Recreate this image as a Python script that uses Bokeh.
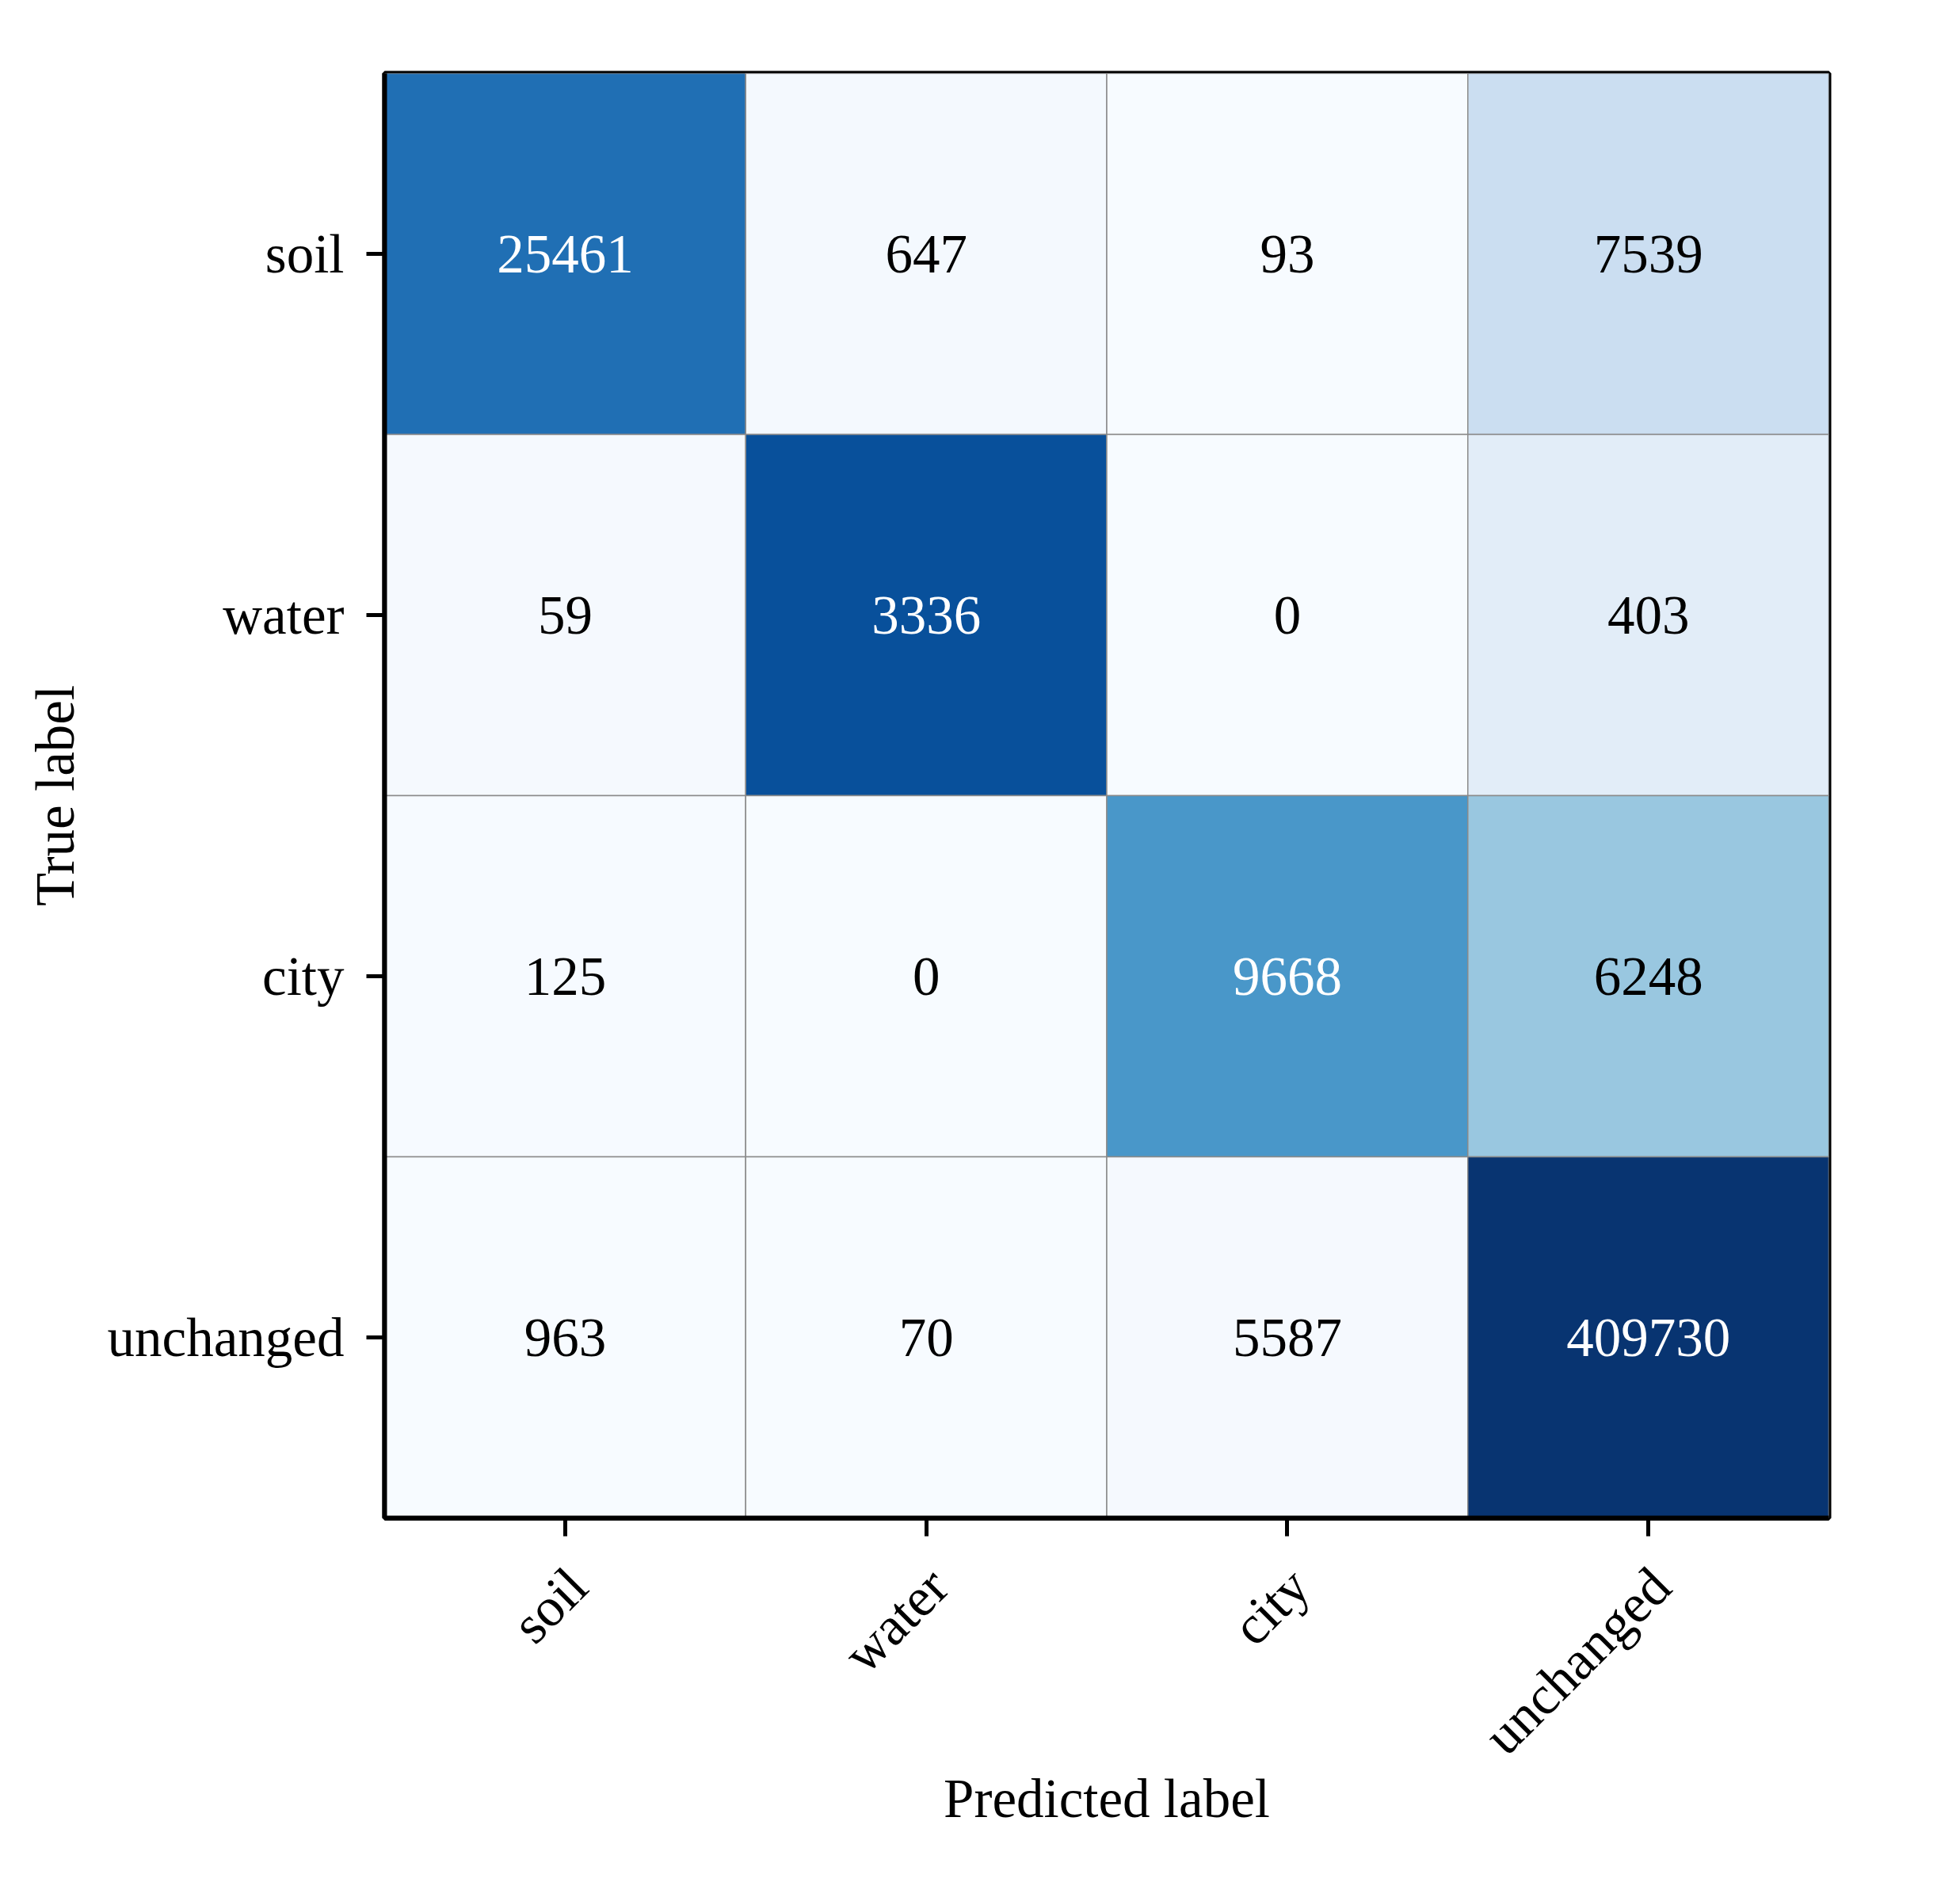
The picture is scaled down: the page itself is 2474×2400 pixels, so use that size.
import math
from bokeh.plotting import figure
from bokeh.models import (ColumnDataSource, LinearColorMapper, LinearAxis,
                          Range1d, FixedTicker)
from bokeh.palettes import Blues256
from bokeh.embed import file_html
from bokeh.resources import INLINE
from bokeh.core.properties import value
from bokeh.transform import transform

# ---- data ----
classes = ["soil", "water", "city", "unchanged"]
row_soil = [25461, 647, 93, 7539]
row_water = [59, 3336, 0, 403]
row_city = [125, 0, 9668, 6248]
row_unchanged = [963, 70, 5587, 409730]

rows = [row_soil, row_water, row_city, row_unchanged]

xs, ys, counts, norms, tcol = [], [], [], [], []
for i, r in enumerate(rows):
    tot = float(sum(r))
    for j, v in enumerate(r):
        n = v / tot
        xs.append(j + 0.5)
        ys.append(i + 0.5)
        counts.append(str(v))
        norms.append(n)
        tcol.append("white" if n > 0.5 else "black")

src = ColumnDataSource(dict(x=xs, y=ys, count=counts, norm=norms, tcol=tcol))

FONT = "Liberation Serif"
FS = "69px"
n_cls = len(classes)
centers = [k + 0.5 for k in range(n_cls)]

p = figure(
    width=2458, height=2384,
    x_range=Range1d(0, n_cls), y_range=Range1d(n_cls, 0),
    output_backend="svg", toolbar_location=None,
    min_border_left=485, min_border_right=150,
    min_border_top=92, min_border_bottom=468,
)
p.background_fill_color = "white"
p.border_fill_color = "white"
p.outline_line_color = "black"
p.outline_line_width = 6
p.grid.visible = False

mapper = LinearColorMapper(palette=list(Blues256[::-1]), low=0.0, high=1.0)

p.rect(x="x", y="y", width=1, height=1, source=src,
       fill_color=transform("norm", mapper),
       line_color="#8a8a8a", line_width=1.5)

p.text(x="x", y="y", text="count", source=src,
       text_color="tcol", text_align="center", text_baseline="middle",
       text_font=value(FONT), text_font_size=FS)

xax = p.below[0]
yax = p.left[0]
for ax in (xax, yax):
    ax.ticker = FixedTicker(ticks=centers, minor_ticks=[])
    ax.axis_line_color = "black"
    ax.axis_line_width = 6
    ax.major_tick_line_color = "black"
    ax.major_tick_line_width = 5
    ax.major_tick_out = 23
    ax.major_tick_in = 0
    ax.minor_tick_out = 0
    ax.minor_tick_in = 0
    ax.major_label_text_font = FONT
    ax.major_label_text_font_size = FS
    ax.major_label_text_color = "black"
    ax.axis_label_text_font = FONT
    ax.axis_label_text_font_size = FS
    ax.axis_label_text_font_style = "normal"
    ax.axis_label_text_color = "black"

yax.major_label_overrides = {c: lab for c, lab in zip(centers, classes)}
yax.axis_label = "True label"
yax.major_label_standoff = 28
yax.axis_label_standoff = 25

# primary x axis: ticks only (labels drawn by the label axis below)
xax.major_label_text_color = None
xax.major_label_text_alpha = 0
xax.major_label_text_font_size = "1px"
xax.major_label_standoff = 0

# label axis: rotated tick labels, nudged so their top-right corner sits under each tick
lab_ticks = [c + 0.035 for c in centers]
lab_axis = LinearAxis(
    ticker=FixedTicker(ticks=lab_ticks, minor_ticks=[]),
    major_label_overrides={t: lab for t, lab in zip(lab_ticks, classes)},
    axis_line_color=None, major_tick_line_color=None, minor_tick_line_color=None,
    major_tick_out=0, major_tick_in=0, minor_tick_out=0, minor_tick_in=0,
    major_label_orientation=math.pi / 4,
    major_label_standoff=52,
    major_label_text_font=FONT, major_label_text_font_size=FS,
    major_label_text_color="black",
    axis_label="Predicted label",
    axis_label_text_font=FONT, axis_label_text_font_size=FS,
    axis_label_text_font_style="normal", axis_label_text_color="black",
    axis_label_standoff=-27,
)
p.add_layout(lab_axis, "below")

open("out.html", "w").write(file_html(p, INLINE))
